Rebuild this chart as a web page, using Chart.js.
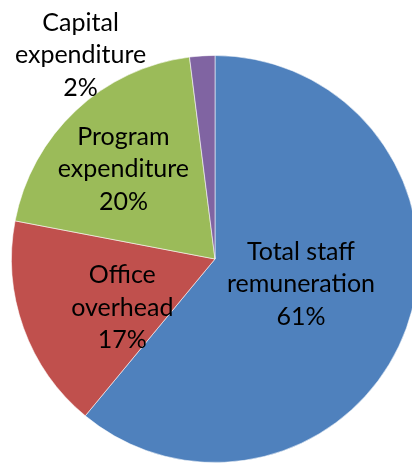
<!DOCTYPE html>
<html>
<head>
<meta charset="utf-8">
<script src="https://cdn.jsdelivr.net/npm/chart.js@4"></script>
<style>
  html, body { margin: 0; padding: 0; background: #fff; overflow: hidden; }
  #wrap { width: 430px; height: 464px; }
</style>
</head>
<body>
<div id="wrap"><canvas id="pie-chart" width="430" height="464"></canvas></div>
<script>
// slices, clockwise from 12 o'clock
const categories = [
    ['Total staff', 'remuneration'],
    ['Office', 'overhead'],
    ['Program', 'expenditure'],
    ['Capital', 'expenditure']
];
const shares = [61, 17, 20, 2];
const sliceColors = ['#4F81BD', '#C0504D', '#9BBB59', '#8064A2'];

// where each label sits: fraction of radius from center, angle nudge in degrees
const labelPlacement = [
    { f: 0.44, da: -3.6 },
    { f: 0.515, da: -8 },
    { f: 0.63, da: -2.4 },
    { f: 1.2, da: -29.8 }
];

const sliceLabels = {
    id: 'sliceLabels',
    afterDatasetsDraw(chart) {
        const ctx = chart.ctx;
        const meta = chart.getDatasetMeta(0);
        const total = shares.reduce((a, b) => a + b, 0);
        ctx.save();
        ctx.font = '25px Lato';
        ctx.fillStyle = '#000';
        ctx.textAlign = 'center';
        ctx.textBaseline = 'middle';
        meta.data.forEach((arc, i) => {
            const p = arc.getProps(['x', 'y', 'startAngle', 'endAngle', 'outerRadius'], true);
            const mid = (p.startAngle + p.endAngle) / 2 + labelPlacement[i].da * Math.PI / 180;
            const r = p.outerRadius * labelPlacement[i].f;
            const cx = p.x + Math.cos(mid) * r;
            const cy = p.y + Math.sin(mid) * r;
            const lines = categories[i].concat([Math.round(shares[i] / total * 100) + '%']);
            const lh = 32.5;
            lines.forEach((line, j) => {
                ctx.fillText(line, cx, cy + (j - (lines.length - 1) / 2) * lh);
            });
        });
        ctx.restore();
    }
};

const ctx = document.getElementById('pie-chart').getContext('2d');
new Chart(ctx, {
    type: 'pie',
    data: {
        labels: categories,
        datasets: [{
            data: shares,
            backgroundColor: sliceColors,
            borderColor: 'rgba(255,255,255,0.55)',
            borderWidth: 1
        }]
    },
    options: {
        responsive: false,
        animation: false,
        devicePixelRatio: 1,
        layout: { padding: { left: 11, right: 11, top: 55, bottom: 1 } },
        plugins: {
            legend: { display: false },
            tooltip: { enabled: false }
        }
    },
    plugins: [sliceLabels]
});
</script>
</body>
</html>
